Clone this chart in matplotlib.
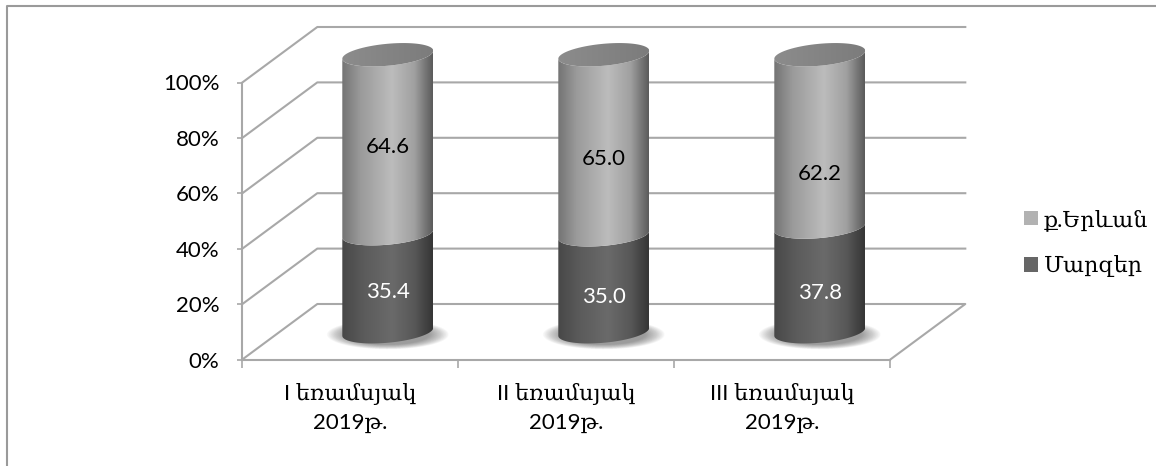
#!/usr/bin/env python3
"""Stacked 3D-look cylinder chart, Yerevan vs regions by quarter."""

import matplotlib
matplotlib.use('Agg')
import matplotlib.pyplot as plt
import numpy as np
from matplotlib.colors import LinearSegmentedColormap
from matplotlib.lines import Line2D
from matplotlib.patches import Patch, Polygon

categories = ['I եռամսյակ\n2019թ.', 'II եռամսյակ\n2019թ.', 'III եռամսյակ\n2019թ.']
marzer = [35.4, 35.0, 37.8]
yerevan = [64.6, 65.0, 62.2]
marzer_labels = ['35.4', '35.0', '37.8']
yerevan_labels = ['64.6', '65.0', '62.2']
legend_labels = ['ք.Երևան', 'Մարզեր']
y_ticks = [0, 20, 40, 60, 80, 100]

# hand placed labels in the original, offset from the segment middle (percent)
marzer_shift = [-3.4, -5.0, -5.0]
yerevan_shift = [-0.9, -5.0, -11.8]

GRID = '#a8a8a8'
FONTS = ['Lato', 'DejaVu Serif']

fig = plt.figure(figsize=(11.56, 4.66), dpi=100, facecolor='white')
ax = fig.add_axes([242.3 / 1156, (466 - 359.5) / 466, 648 / 1156, 277 / 466])
ax.set_facecolor('none')

# pixels per data unit
sx = 648 / 3
sy = 277 / 100
depth_x = 75 / sx
depth_y = 55.5 / sy
semi_a = 45.5 / sx
tilt = 4.0 / sy
semi_b = 11.0 / sy


def arc(cx, cy, t0, t1, n=60):
    t = np.linspace(t0, t1, n)
    return np.column_stack([cx + semi_a * np.cos(t),
                            cy + tilt * np.cos(t) + semi_b * np.sin(t)])


def gradient_fill(verts, cx, stops, zorder):
    cmap = LinearSegmentedColormap.from_list('body', stops)
    patch = Polygon(verts, closed=True, facecolor='none', edgecolor='none',
                    transform=ax.transData)
    ax.add_patch(patch)
    im = ax.imshow(np.linspace(0, 1, 200).reshape(1, -1), cmap=cmap, aspect='auto',
                   extent=[cx - semi_a, cx + semi_a, -30, 130], zorder=zorder)
    # images stop at the axes box unless told otherwise
    im.set_clip_box(fig.bbox)
    im.set_clip_path(patch)


LIGHT = [(0, '#747474'), (0.2, '#9a9a9a'), (0.55, '#bcbcbc'), (0.8, '#a0a0a0'),
         (0.95, '#6c6c6c'), (1, '#5c5c5c')]
DARK = [(0, '#484848'), (0.25, '#5c5c5c'), (0.55, '#6a6a6a'), (0.8, '#585858'),
        (0.95, '#3e3e3e'), (1, '#363636')]
CAP = [(0, '#8c8c8c'), (0.5, '#848484'), (1, '#7c7c7c')]

# walls and floor
x0, x1 = -0.5, 2.5
for v in y_ticks[1:]:
    ax.plot([x0, x0 + depth_x, x1 + depth_x], [v, v + depth_y, v + depth_y],
            color=GRID, lw=1.5, clip_on=False, zorder=1)
ax.plot([x0, x0 + depth_x, x1 + depth_x, x1], [0, depth_y, depth_y, 0],
        color=GRID, lw=1.5, clip_on=False, zorder=1)

# cylinders
for i in range(len(categories)):
    cx = i + depth_x / 2
    base = depth_y / 2
    mid = base + marzer[i]
    top = mid + yerevan[i]

    # soft shadow under the base
    t = np.linspace(0, 2 * np.pi, 80)
    for grow in np.linspace(1.34, 0.9, 30):
        ax.fill(cx + semi_a * grow * np.cos(t),
                base - 1.0 + semi_b * grow * np.sin(t),
                color='#505050', alpha=0.022, lw=0, clip_on=False, zorder=2)

    low = arc(cx, base, np.pi, 2 * np.pi)
    seam = arc(cx, mid, np.pi, 2 * np.pi)
    high = arc(cx, top, np.pi, 2 * np.pi)
    gradient_fill(np.vstack([low, seam[::-1]]), cx, DARK, 3)
    gradient_fill(np.vstack([seam, high[::-1]]), cx, LIGHT, 3)
    gradient_fill(arc(cx, top, 0, 2 * np.pi, 120), cx, CAP, 4)

    ax.text(cx, base + marzer[i] / 2 + marzer_shift[i], marzer_labels[i],
            color='white', ha='center', va='center', fontsize=16, family=FONTS, zorder=5)
    ax.text(cx, mid + yerevan[i] / 2 + yerevan_shift[i], yerevan_labels[i],
            color='black', ha='center', va='center', fontsize=16, family=FONTS, zorder=5)

ax.set_xlim(x0, x1)
ax.set_ylim(0, 100)

for name in ('top', 'right'):
    ax.spines[name].set_visible(False)
for name in ('left', 'bottom'):
    ax.spines[name].set_color(GRID)
    ax.spines[name].set_linewidth(1.5)
    ax.spines[name].set_zorder(1)

ax.set_yticks(y_ticks)
ax.set_yticklabels([f'{v}%' for v in y_ticks], fontsize=16, family=FONTS)
ax.tick_params(axis='y', length=3.5, width=1.2, color=GRID, pad=13)

ax.set_xticks([-0.5, 0.5, 1.5, 2.5])
ax.set_xticklabels([])
ax.set_xticks(range(len(categories)), minor=True)
ax.set_xticklabels(categories, minor=True, fontsize=16, family=FONTS, linespacing=1.5)
ax.tick_params(axis='x', which='major', length=5.5, width=1.2, color=GRID)
ax.tick_params(axis='x', which='minor', length=0, pad=17)

handles = [Patch(facecolor='#b2b2b2'), Patch(facecolor='#666666')]
leg = fig.legend(handles, legend_labels, loc='upper left',
                 bbox_to_anchor=(1004 / 1156, 1 - 189 / 466), frameon=False,
                 handlelength=0.63, handleheight=0.63, handletextpad=0.27,
                 labelspacing=1.1, prop={'family': FONTS, 'size': 16})

# outer chart frame
frame_x = [7 / 1156, 7 / 1156, 1]
frame_y = [0, 1 - 5.5 / 466, 1 - 5.5 / 466]
fig.add_artist(Line2D(frame_x, frame_y, color='#9a9a9a', lw=1.5, transform=fig.transFigure))

fig.savefig('out.png', dpi=100, facecolor='white')
